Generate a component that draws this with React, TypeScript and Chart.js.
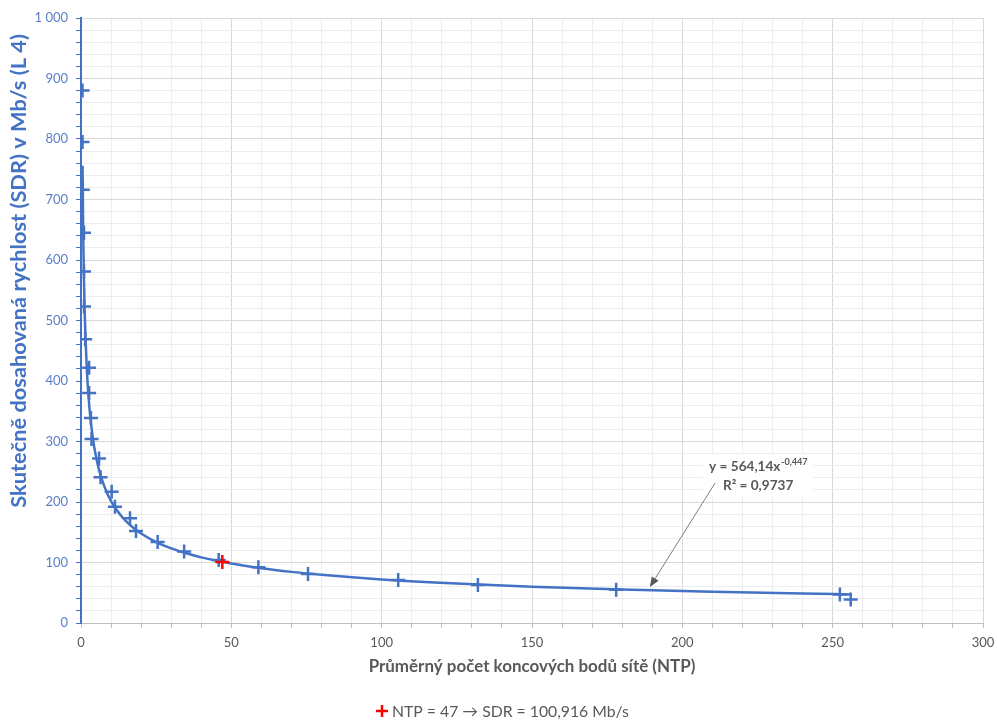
import React, { useEffect, useRef } from 'react';
import { Chart, registerables } from 'chart.js';

Chart.register(...registerables);

// ---- data ----
const ntpValues = [0.5, 0.5, 0.6, 1, 1, 1, 1.4, 2.7, 2.7, 3.3, 3.5, 6, 6.5, 10.2, 11.3, 16.3, 18.3, 25.5, 34.3, 45.8, 59, 75.5, 105.5, 132, 178, 252.4, 256];
const sdrValues = [880, 795, 716, 645, 581, 523, 469, 422, 380, 339, 304, 272, 241, 217, 192, 173, 152, 134, 118, 104, 92, 81, 71, 63, 55, 47, 39];

const highlightNtp = [47];
const highlightSdr = [100.916];

// power trend line (y = 564,14x^-0,447)
const trendNtp = [0.52, 0.6, 0.7, 0.8, 1, 1.25, 1.5, 2, 2.5, 3, 4, 5, 6, 7, 8.5, 10, 12, 14, 17, 20, 25, 30, 35, 40, 50, 60, 70, 80, 100, 125, 150, 180, 210, 240, 256];
const trendSdr = [755.7, 708.9, 661.7, 623.3, 564.1, 510.6, 470.6, 413.9, 374.5, 345.3, 303.6, 274.8, 253.2, 236.4, 216.7, 201.6, 185.8, 173.4, 159.0, 147.9, 133.8, 123.3, 115.2, 108.5, 98.2, 90.5, 84.5, 79.6, 72.0, 65.2, 60.1, 55.4, 51.7, 48.7, 47.3];

const xMajorTicks = [0, 50, 100, 150, 200, 250, 300];
const yMajorTicks = [0, 100, 200, 300, 400, 500, 600, 700, 800, 900, 1000];

const xTitle = 'Průměrný počet koncových bodů sítě (NTP)';
const yTitle = 'Skutečně dosahovaná rychlost (SDR) v Mb/s (L 4)';
const legendLabel = 'NTP = 47 → SDR = 100,916 Mb/s';
const trendEquation = 'y = 564,14x';
const trendExponent = '-0,447';
const trendR2 = 'R² = 0,9737';

// ---- layout (not data) ----
const labelAt = { x: 225.2, y: 243 };
const arrowFrom = { x: 210.9, y: 231.4 };
const arrowTo = { x: 189.2, y: 59.5 };
const yTitleAt = 582; // centre of the y title, in y-scale units
const Y_TITLE_WIDTH = 474;
const X_TITLE_WIDTH = 327;
const LEGEND_TEXT_WIDTH = 237;
const EQ_WIDTH = 98;

const BLUE = '#4472C4';
const GRAY_TEXT = '#595959';
const FONT = 'Lato, "Open Sans", sans-serif';

const formatThousands = (v: number) =>
  String(v).replace(/\B(?=(\d{3})+(?!\d))/g, ' ');

const measureCtx = (): CanvasRenderingContext2D => {
  const c = document.createElement('canvas');
  return c.getContext('2d') as CanvasRenderingContext2D;
};

const fitSize = (ctx: CanvasRenderingContext2D, text: string, weight: string, target: number) => {
  const base = 20;
  ctx.font = `${weight} ${base}px ${FONT}`;
  return (base * target) / ctx.measureText(text).width;
};

const yTitlePlugin = {
  id: 'yTitle',
  afterDraw(chart: any) {
    const { ctx, scales } = chart;
    const cy = scales.y.getPixelForValue(yTitleAt);
    ctx.save();
    const size = fitSize(ctx, yTitle, 'bold', Y_TITLE_WIDTH);
    ctx.translate(19, cy);
    ctx.rotate(-Math.PI / 2);
    ctx.font = `bold ${size}px ${FONT}`;
    ctx.fillStyle = BLUE;
    ctx.textAlign = 'center';
    ctx.textBaseline = 'middle';
    ctx.fillText(yTitle, 0, 0);
    ctx.restore();
  },
};

const annotationPlugin = {
  id: 'trendAnnotation',
  afterDatasetsDraw(chart: any) {
    const { ctx, scales } = chart;
    const xs = scales.x;
    const ys = scales.y;
    const cx = xs.getPixelForValue(labelAt.x);
    const cy = ys.getPixelForValue(labelAt.y);
    ctx.save();
    ctx.fillStyle = '#ffffff';
    ctx.fillRect(cx - 55, cy - 22, 110, 42);

    const x1 = xs.getPixelForValue(arrowFrom.x);
    const y1 = ys.getPixelForValue(arrowFrom.y);
    const x2 = xs.getPixelForValue(arrowTo.x);
    const y2 = ys.getPixelForValue(arrowTo.y);
    const ang = Math.atan2(y2 - y1, x2 - x1);
    const headLen = 10;
    const headW = 4;
    ctx.strokeStyle = '#7f7f7f';
    ctx.lineWidth = 1;
    ctx.beginPath();
    ctx.moveTo(x1, y1);
    ctx.lineTo(x2 - Math.cos(ang) * headLen * 0.8, y2 - Math.sin(ang) * headLen * 0.8);
    ctx.stroke();
    ctx.fillStyle = '#595959';
    ctx.beginPath();
    ctx.moveTo(x2, y2);
    ctx.lineTo(
      x2 - Math.cos(ang) * headLen - Math.sin(ang) * headW,
      y2 - Math.sin(ang) * headLen + Math.cos(ang) * headW
    );
    ctx.lineTo(
      x2 - Math.cos(ang) * headLen + Math.sin(ang) * headW,
      y2 - Math.sin(ang) * headLen - Math.cos(ang) * headW
    );
    ctx.closePath();
    ctx.fill();

    // fit the equation line to the reference width
    ctx.font = `bold 12px ${FONT}`;
    const m1 = ctx.measureText(trendEquation).width;
    ctx.font = `bold 8px ${FONT}`;
    const m2 = ctx.measureText(trendExponent).width;
    const k = EQ_WIDTH / (m1 + m2);
    const big = 12 * k;
    const small = 8 * k;
    const w1 = m1 * k;
    const w2 = m2 * k;

    ctx.fillStyle = GRAY_TEXT;
    ctx.textBaseline = 'middle';
    ctx.textAlign = 'left';
    const start = cx - (w1 + w2) / 2;
    ctx.font = `bold ${big}px ${FONT}`;
    ctx.fillText(trendEquation, start, cy - 9);
    ctx.font = `bold ${small}px ${FONT}`;
    ctx.fillText(trendExponent, start + w1 + 0.5, cy - 13.5);
    ctx.font = `bold ${big}px ${FONT}`;
    ctx.textAlign = 'center';
    ctx.fillText(trendR2, cx, cy + 9.5);
    ctx.restore();
  },
};

const legendPlugin = {
  id: 'bottomLegend',
  afterDraw(chart: any) {
    const { ctx } = chart;
    ctx.save();
    const size = fitSize(ctx, legendLabel, 'normal', LEGEND_TEXT_WIDTH);
    ctx.font = `${size}px ${FONT}`;
    const startX = 376;
    const y = 711;
    ctx.strokeStyle = '#FF0000';
    ctx.lineWidth = 2.5;
    ctx.beginPath();
    ctx.moveTo(startX, y);
    ctx.lineTo(startX + 12, y);
    ctx.moveTo(startX + 6, y - 6);
    ctx.lineTo(startX + 6, y + 6);
    ctx.stroke();
    ctx.fillStyle = GRAY_TEXT;
    ctx.textBaseline = 'middle';
    ctx.textAlign = 'left';
    ctx.fillText(legendLabel, startX + 16, y + 1);
    ctx.restore();
  },
};

export default function App() {
  const canvasRef = useRef<HTMLCanvasElement | null>(null);

  useEffect(() => {
    if (!canvasRef.current) return;
    const measured = ntpValues.map((x, i) => ({ x, y: sdrValues[i] }));
    const highlight = highlightNtp.map((x, i) => ({ x, y: highlightSdr[i] }));
    const trend = trendNtp.map((x, i) => ({ x, y: trendSdr[i] }));

    const xTitleSize = fitSize(measureCtx(), xTitle, 'bold', X_TITLE_WIDTH);

    const chart = new Chart(canvasRef.current, {
      type: 'scatter',
      data: {
        datasets: [
          {
            label: legendLabel,
            data: highlight,
            pointStyle: 'cross',
            pointRadius: 7,
            pointBorderWidth: 2.5,
            borderColor: '#FF0000',
            backgroundColor: '#FF0000',
            showLine: false,
          },
          {
            label: 'SDR',
            data: measured,
            pointStyle: 'cross',
            pointRadius: 7,
            pointBorderWidth: 2.5,
            borderColor: BLUE,
            backgroundColor: BLUE,
            showLine: false,
          },
          {
            label: 'Trend',
            data: trend,
            showLine: true,
            pointRadius: 0,
            borderColor: BLUE,
            borderWidth: 2.5,
            cubicInterpolationMode: 'monotone',
          },
        ],
      } as any,
      options: {
        responsive: false,
        animation: false,
        devicePixelRatio: 1,
        layout: { padding: { top: 18, right: 14, bottom: 0, left: 0 } },
        plugins: {
          legend: { display: false },
          tooltip: { enabled: false },
        },
        scales: {
          x: {
            type: 'linear',
            min: 0,
            max: 300,
            afterFit: (s: any) => {
              s.height = 97;
              s.paddingRight = 0;
              s.paddingLeft = 0;
            },
            ticks: {
              stepSize: 10,
              autoSkip: false,
              maxRotation: 0,
              padding: 7,
              color: GRAY_TEXT,
              font: { family: FONT, size: 13 },
              callback: (v: any) => (xMajorTicks.includes(Number(v)) ? String(v) : ''),
            },
            grid: {
              color: (c: any) => (c.tick && xMajorTicks.includes(c.tick.value) ? '#d9d9d9' : '#ededed'),
              tickColor: '#bfbfbf',
              tickLength: 5,
              lineWidth: 1,
            },
            border: { color: '#bfbfbf', width: 1 },
            title: {
              display: true,
              text: xTitle,
              color: GRAY_TEXT,
              font: { family: FONT, size: xTitleSize, weight: 'bold' },
              padding: { top: 4, bottom: 720 - 667 - xTitleSize * 0.6 },
            },
          },
          y: {
            type: 'linear',
            min: 0,
            max: 1000,
            afterFit: (s: any) => {
              s.width = 81;
            },
            ticks: {
              stepSize: 20,
              autoSkip: false,
              padding: 8,
              color: '#5B7DC8',
              font: { family: FONT, size: 13 },
              callback: (v: any) => (yMajorTicks.includes(Number(v)) ? formatThousands(Number(v)) : ''),
            },
            grid: {
              color: (c: any) => (c.tick && yMajorTicks.includes(c.tick.value) ? '#d9d9d9' : '#ededed'),
              tickColor: BLUE,
              tickLength: 5,
              lineWidth: 1,
            },
            border: { color: BLUE, width: 2 },
            title: { display: false },
          },
        },
      } as any,
      plugins: [annotationPlugin, legendPlugin, yTitlePlugin],
    });
    return () => chart.destroy();
  }, []);

  return (
    <div style={{ position: 'absolute', left: 0, top: 0, width: 997, height: 720, background: '#ffffff' }}>
      <canvas ref={canvasRef} width={997} height={720} />
    </div>
  );
}
